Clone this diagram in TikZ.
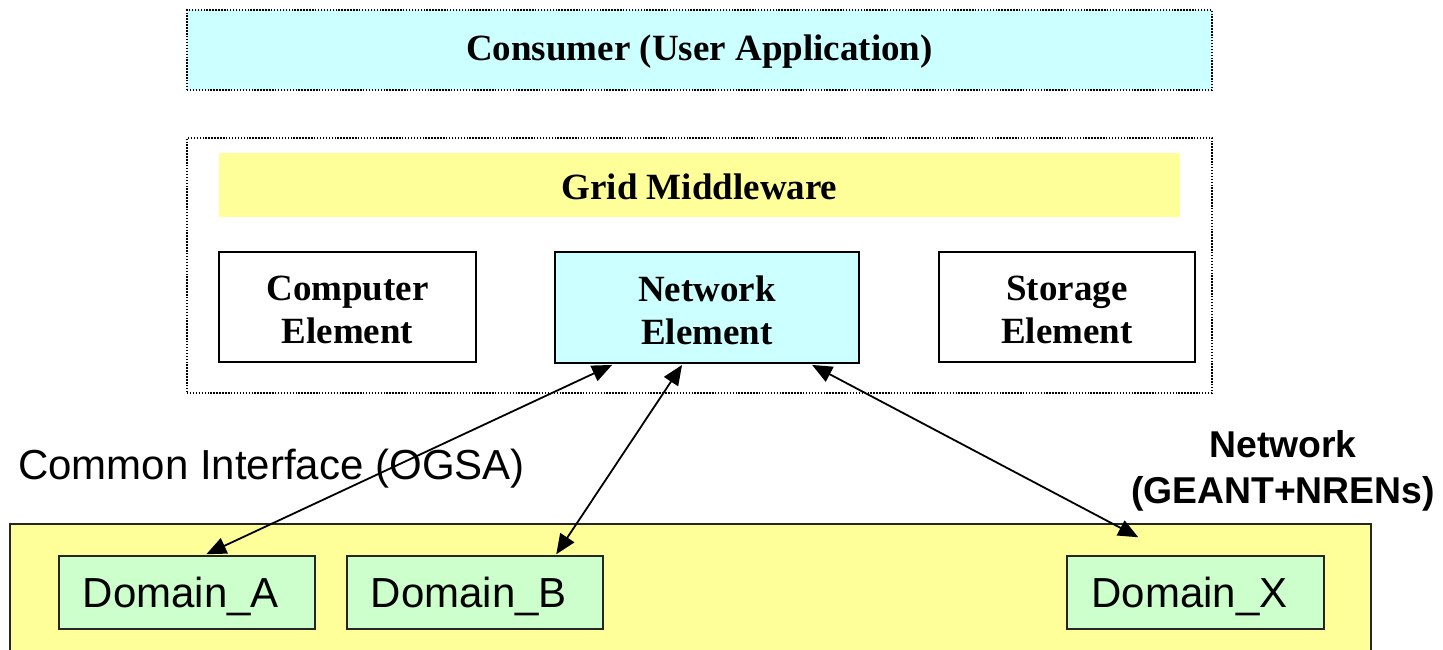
\documentclass[tikz,border=0pt]{standalone}
\usepackage{fontspec}
\setmainfont{Liberation Serif}
\newfontfamily\arial{Liberation Sans}
\usetikzlibrary{fit,calc,arrows.meta}
\definecolor{cyanfill}{HTML}{CCFFFF}
\definecolor{yellowfill}{HTML}{FFFF99}
\definecolor{greenfill}{HTML}{CCFFCC}
\tikzset{
  dottedbox/.style={draw=black, line width=1.1pt, dash pattern=on 1.1pt off 1.1pt, inner sep=0pt},
  elementbox/.style={draw=black, line width=1.4pt, inner sep=0pt, align=center,
    font=\fontsize{27.75}{32}\selectfont\bfseries},
  titlefont/.style={font=\fontsize{27.75}{32}\selectfont\bfseries},
  domainbox/.style={draw=black!85, line width=1.1pt, fill=greenfill, inner sep=0pt},
  domainfont/.style={font=\arial\fontsize{31.5}{36}\selectfont},
  link/.style={line width=1.35pt, {Triangle[length=15pt,width=12.5pt]}-{Triangle[length=15pt,width=12.5pt]}},
}
\begin{document}
\begin{tikzpicture}[x=0.75pt, y=-0.75pt]
\useasboundingbox (0,0) rectangle (1443,650);

% consumer layer
\node[dottedbox, fill=cyanfill, fit={(187,10) (1212,90)}] (consumer) {};
\node[titlefont] at ($(consumer.center)+(0,2)$) {Consumer (User Application)};

% grid middleware layer
\node[dottedbox, fit={(187,138) (1212,393)}] (grid) {};
\node[fill=yellowfill, inner sep=0pt, fit={(219,153) (1180,217)}] (mw) {};
\node[titlefont] at ($(mw.center)+(0,2)$) {Grid Middleware};

\node[elementbox, fill=white, fit={(219,252) (476,362)}] (ce) {};
\node[elementbox, draw=none, fill=none] at ($(ce.center)+(0,3)$) {Computer\\Element};
\node[elementbox, fill=cyanfill, fit={(555,252) (859,363)}] (ne) {};
\node[elementbox, draw=none, fill=none] at ($(ne.center)+(0,3)$) {Network\\Element};
\node[elementbox, fill=white, fit={(939,252) (1195,362)}] (se) {};
\node[elementbox, draw=none, fill=none] at ($(se.center)+(0,3)$) {Storage\\Element};

% network layer (runs off the lower edge)
\fill[yellowfill] (10,524) rectangle (1371,650);
\draw[black!85, line width=1.1pt] (10,650) -- (10,524) -- (1371,524) -- (1371,650);

\node[domainbox, fit={(59,556) (315,629)}] (da) {};
\node[domainfont] at ($(da.center)+(-6,4)$) {Domain\_A};
\node[domainbox, fit={(347,556) (603,629)}] (db) {};
\node[domainfont] at ($(db.center)+(-6,4)$) {Domain\_B};
\node[domainbox, fit={(1067,556) (1324,629)}] (dx) {};
\node[domainfont] at ($(dx.center)+(-6,4)$) {Domain\_X};

% labels
\node[anchor=west, inner sep=0pt, domainfont] (ogsa) at (18,469) {Common Interface (OGSA)};
\node[align=center, inner sep=0pt, font=\arial\fontsize{28}{34}\selectfont\bfseries] (netlabel) at (1283,471) {Network\\(GEANT+NRENs)};

% links between the network element and the domains
\draw[link] ($(ne.south west)+(58,1)$) -- ($(da.north west)+(148,-1)$);
\draw[link] ($(ne.south west)+(128,1)$) -- ($(db.north west)+(210,-1)$);
\draw[link] ($(ne.south west)+(258,1)$) -- ($(dx.north west)+(72,-18)$);
\end{tikzpicture}
\end{document}
